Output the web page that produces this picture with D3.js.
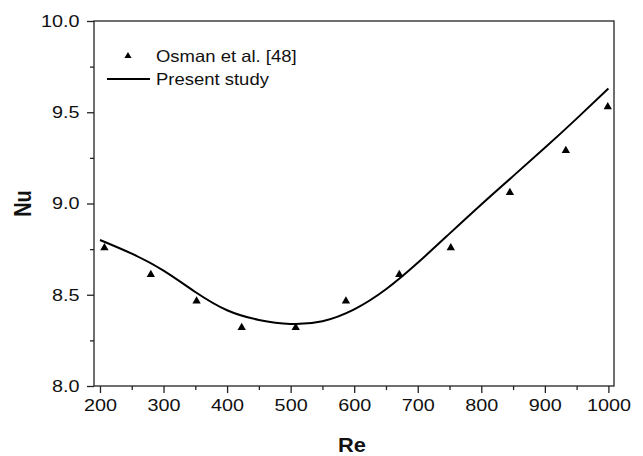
<!DOCTYPE html>
<html>
<head>
<meta charset="utf-8">
<script src="https://cdn.jsdelivr.net/npm/d3@7/dist/d3.min.js"></script>
<style>
  html, body { margin: 0; padding: 0; background: #fff; }
  svg { display: block; font-family: "Liberation Sans", Arial, sans-serif; }
</style>
</head>
<body>
<svg id="chart" width="643" height="456"></svg>
<script>
// Experimental points (Osman et al. [48])
const expRe = [207, 280, 352, 423, 508, 587, 671, 752, 845, 933, 999];
const expNu = [8.757, 8.61, 8.465, 8.32, 8.32, 8.465, 8.61, 8.757, 9.06, 9.29, 9.53];

// Present study curve
const simRe = [200, 250, 300, 350, 400, 450, 500, 550, 600, 650, 700, 750, 800, 850, 900, 950, 1000];
const simNu = [8.80, 8.725, 8.632, 8.515, 8.415, 8.362, 8.34, 8.355, 8.42, 8.53, 8.675, 8.835, 8.995, 9.15, 9.305, 9.465, 9.63];

// Axis ticks
const xTicks = [200, 300, 400, 500, 600, 700, 800, 900, 1000];
const xMinor = [250, 350, 450, 550, 650, 750, 850, 950];
const yTicks = [8.0, 8.5, 9.0, 9.5, 10.0];
const yMinor = [8.25, 8.75, 9.25, 9.75];

const legendLabels = ["Osman et al. [48]", "Present study"];

const svg = d3.select("#chart");
const L = 94, R = 614, T = 21, B = 386;
const SX = 1.2;           // horizontal stretch of the lettering
const FONT = "'Liberation Sans', Arial, sans-serif";

const x = d3.scaleLinear().domain([190.6, 1008.8]).range([L, R]);
const y = d3.scaleLinear().domain([8, 10]).range([B, T]);

// frame
svg.append("rect")
  .attr("x", L).attr("y", T).attr("width", R - L).attr("height", B - T)
  .attr("fill", "none").attr("stroke", "#222").attr("stroke-width", 1.3);

// x axis
const gx = svg.append("g").attr("transform", `translate(0,${B})`);
gx.call(d3.axisBottom(x).tickValues(xTicks).tickSize(7).tickPadding(6).tickFormat(d3.format("d")));
gx.append("g").call(d3.axisBottom(x).tickValues(xMinor).tickSize(4).tickFormat(""));
gx.selectAll(".domain").remove();
gx.selectAll("line").attr("stroke", "#222").attr("stroke-width", 1.3);
gx.selectAll("text").attr("fill", "#111").style("font-size", "16.5px").style("font-family", FONT)
  .attr("transform", `scale(${SX},1)`);

// y axis
const gy = svg.append("g").attr("transform", `translate(${L},0)`);
gy.call(d3.axisLeft(y).tickValues(yTicks).tickSize(7).tickPadding(6).tickFormat(d3.format(".1f")));
gy.append("g").call(d3.axisLeft(y).tickValues(yMinor).tickSize(4).tickFormat(""));
gy.selectAll(".domain").remove();
gy.selectAll("line").attr("stroke", "#222").attr("stroke-width", 1.3);
gy.selectAll("text").attr("fill", "#111").style("font-size", "16.5px").style("font-family", FONT)
  .attr("x", -14.5 / SX).attr("transform", `scale(${SX},1)`);

// axis titles
svg.append("text").attr("transform", `translate(${(L + R) / 2 - 2},452) scale(1.12,1)`)
  .attr("text-anchor", "middle").attr("font-weight", "bold").attr("font-size", 19.5)
  .attr("fill", "#111").text("Re");
svg.append("text").attr("transform", `translate(31,${(T + B) / 2}) scale(1.2,1) rotate(-90)`)
  .attr("text-anchor", "middle").attr("font-weight", "bold").attr("font-size", 20)
  .attr("fill", "#111").text("Nu");

// present study curve
const simData = simRe.map((r, i) => [r, simNu[i]]);
svg.append("path").datum(simData)
  .attr("fill", "none").attr("stroke", "#000").attr("stroke-width", 2)
  .attr("d", d3.line().x(d => x(d[0])).y(d => y(d[1])).curve(d3.curveNatural));

// experimental markers
const tri = d3.symbol().type(d3.symbolTriangle).size(30);
svg.append("g").selectAll("path")
  .data(expRe.map((r, i) => [r, expNu[i]]))
  .join("path")
  .attr("d", tri)
  .attr("transform", d => `translate(${x(d[0])},${y(d[1])})`)
  .attr("fill", "#000");

// legend
const lg = svg.append("g");
lg.append("path").attr("d", d3.symbol().type(d3.symbolTriangle).size(22))
  .attr("transform", "translate(128,56)").attr("fill", "#000");
lg.append("text").attr("transform", "translate(156,62) scale(1.12,1)")
  .attr("font-size", 16.5).attr("fill", "#111").text(legendLabels[0]);
lg.append("line").attr("x1", 107).attr("x2", 150).attr("y1", 79).attr("y2", 79)
  .attr("stroke", "#000").attr("stroke-width", 2);
lg.append("text").attr("transform", "translate(156,85) scale(1.12,1)")
  .attr("font-size", 16.5).attr("fill", "#111").text(legendLabels[1]);
</script>
</body>
</html>
